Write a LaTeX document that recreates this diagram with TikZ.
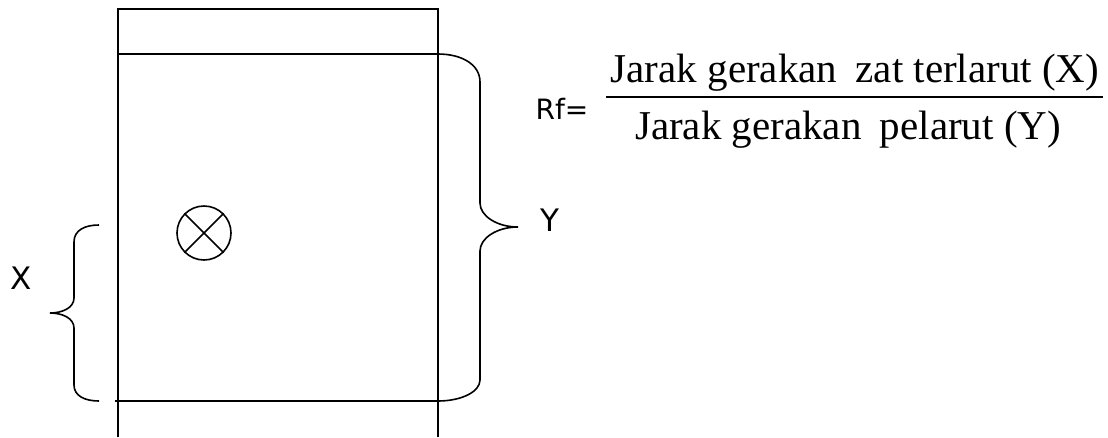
\documentclass[tikz,border=0pt]{standalone}
\usepackage{fontspec}
\newfontfamily\tnr{Liberation Serif}
\newfontfamily\lbl{DejaVu Sans}
\begin{document}
\begin{tikzpicture}[x=1pt,y=-1pt,
  frame/.style={line width=2pt,black},
  brace/.style={line width=1.6pt,black},
  big/.style={font=\tnr\fontsize{41}{41}\selectfont,inner sep=0pt,anchor=base},
  lab/.style={font=\lbl\fontsize{31}{31}\selectfont,inner sep=0pt},
  rflab/.style={font=\lbl\fontsize{28}{28}\selectfont,inner sep=0pt}]
\useasboundingbox (0,0) rectangle (1108,437);
% plate
\coordinate (tl) at (118,9);
\coordinate (tr) at (438,9);
\coordinate (bl) at (118,437);
\coordinate (br) at (438,437);
\coordinate (al) at (118,54);
\coordinate (ar) at (438,54);
\coordinate (fl) at (115,401);
\coordinate (fr) at (438,401);
\draw[frame] (bl) -- (tl) -- (tr) -- (br);
\draw[frame] (al) -- (ar);
\draw[frame] (fl) -- (fr);
% spot
\node[draw,circle,line width=1.6pt,minimum size=54pt,inner sep=0pt] (spot) at (204,233) {};
\draw[line width=1.6pt] (spot.north west) -- (spot.south east);
\draw[line width=1.6pt] (spot.north east) -- (spot.south west);
% left brace (X)
\draw[brace] (99,225) .. controls (85,225) and (74,230) .. (74,242)
  -- (74,298) .. controls (74,308) and (62,313) .. (50,313)
  .. controls (62,313) and (74,318) .. (74,328)
  -- (74,385) .. controls (74,396) and (85,401) .. (99,401);
% right brace (Y)
\draw[brace] (ar) .. controls (461,54) and (480,64) .. (480,82)
  -- (480,203) .. controls (480,216) and (497,227) .. (518,227)
  .. controls (497,227) and (480,238) .. (480,251)
  -- (480,380) .. controls (480,392) and (461,401) .. (fr);
\node[lab] (xl) at (21,278) {X};
\node[lab] (yl) at (550,220) {Y};
% formula
\node[rflab] (rf) at (562,109) {Rf=};
\coordinate (ll) at (606,97);
\coordinate (lr) at (1103,97);
\draw[line width=2pt] (ll) -- (lr);
\node[big] (num) at (855,82) {Jarak gerakan\hspace{8pt} zat terlarut (X)};
\node[big] (den) at (848,139) {Jarak gerakan\hspace{8pt} pelarut (Y)};
\end{tikzpicture}
\end{document}
